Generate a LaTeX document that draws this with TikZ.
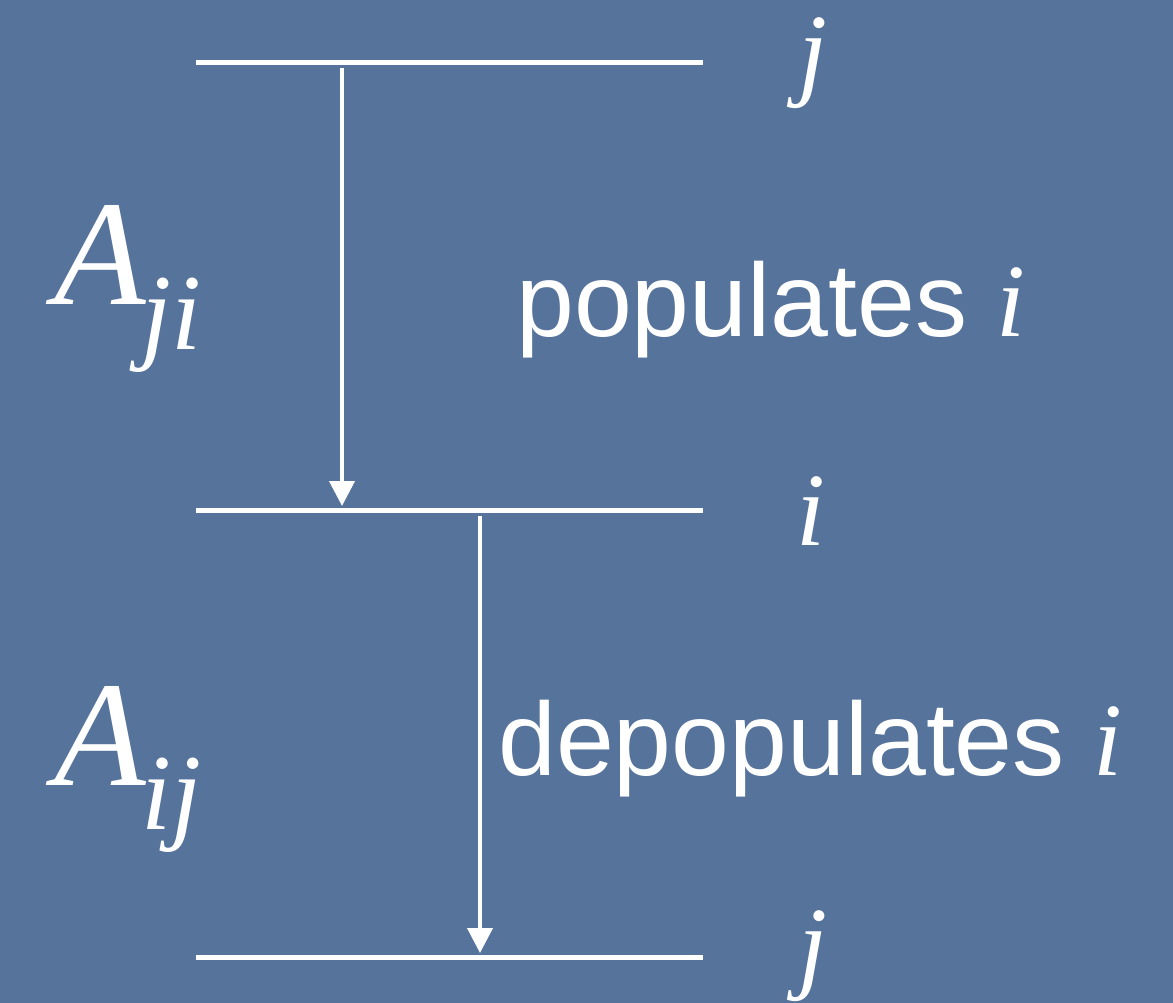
\documentclass[tikz,border=0pt]{standalone}
\usepackage{fontspec}
\setmainfont{Liberation Sans}
\newfontfamily\varfont{Liberation Serif}
\usetikzlibrary{arrows.meta}
\definecolor{slide}{HTML}{56739B}
\newcommand{\lvar}[1]{{\varfont\itshape #1}}
\newcommand{\rate}[1]{{\fontsize{150}{150}\selectfont\lvar{A}\hspace{-4pt}\raisebox{-44pt}{\fontsize{108}{108}\selectfont\lvar{#1}}}}
\begin{document}
\begin{tikzpicture}[x=1pt,y=-1pt,
  level/.style={white,line width=5pt},
  trans/.style={white,line width=4pt,-{Triangle[width=25pt,length=25pt]}},
  lab/.style={text=white,inner sep=0pt,anchor=base west,font=\fontsize{104}{104}\selectfont}]
\fill[slide] (0,0) rectangle (1173,1003);
\useasboundingbox (0,0) rectangle (1173,1003);
% energy levels
\coordinate (jtopL) at (196,63);  \coordinate (jtopR) at (703,63);
\coordinate (iL) at (196,510);    \coordinate (iR) at (703,510);
\coordinate (jbotL) at (196,957); \coordinate (jbotR) at (703,957);
\draw[level] (jtopL) -- (jtopR);
\draw[level] (iL) -- (iR);
\draw[level] (jbotL) -- (jbotR);
% level names
\node[lab] (jtop) at (798,87) {\lvar{j}};
\node[lab] (imid) at (796,545) {\lvar{i}};
\node[lab] (jbot) at (798,979) {\lvar{j}};
% transitions
\coordinate (up1) at (342,68);  \coordinate (dn1) at (342,506);
\coordinate (up2) at (480,516); \coordinate (dn2) at (480,953);
\draw[trans] (up1) -- (dn1);
\draw[trans] (up2) -- (dn2);
% labels
\node[lab] (pop) at (516,336) {populates \lvar{i}};
\node[lab] (depop) at (498,775) {depopulates \lvar{i}};
\node[lab] (aji) at (54,305) {\rate{ji}};
\node[lab] (aij) at (54,785) {\rate{ij}};
\end{tikzpicture}
\end{document}
